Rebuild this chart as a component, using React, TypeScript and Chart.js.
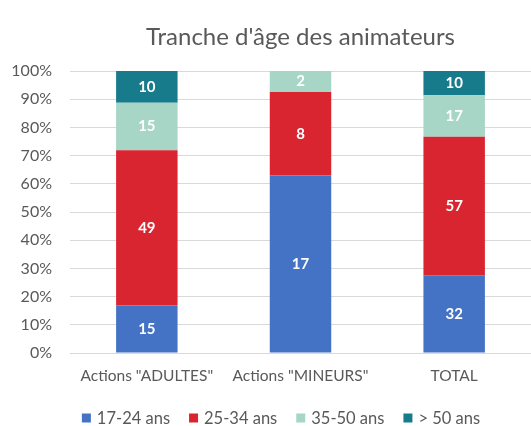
import React, { useEffect, useRef } from "react";
import { Chart, registerables } from "chart.js";

Chart.register(...registerables);

const categories = ['Actions "ADULTES"', 'Actions "MINEURS"', "TOTAL"];
const seriesNames = ["17-24 ans", "25-34 ans", "35-50 ans", "> 50 ans"];
const counts1724 = [15, 17, 32];
const counts2534 = [49, 8, 57];
const counts3550 = [15, 2, 17];
const counts50 = [10, 0, 10];
const colors = ["#4472C4", "#D92530", "#A7D5C6", "#177B8B"];
const yTicks = [0, 10, 20, 30, 40, 50, 60, 70, 80, 90, 100];
const titleText = "Tranche d'âge des animateurs";

const allCounts = [counts1724, counts2534, counts3550, counts50];
const totals = categories.map((_, i) => allCounts.reduce((s, arr) => s + arr[i], 0));

const FONT = "Lato, 'Liberation Sans', sans-serif";
const TEXT = "#595959";

const labelPlugin = {
  id: "countLabels",
  afterDatasetsDraw(chart: any) {
    const ctx = chart.ctx;
    ctx.save();
    ctx.fillStyle = "#FFFFFF";
    ctx.font = "bold 15px Lato, sans-serif";
    ctx.textAlign = "center";
    ctx.textBaseline = "middle";
    chart.data.datasets.forEach((ds: any, di: number) => {
      const meta = chart.getDatasetMeta(di);
      meta.data.forEach((el: any, i: number) => {
        const c = allCounts[di][i];
        if (!c) return;
        const y = (el.y + el.base) / 2;
        ctx.fillText(String(c), el.x, y);
      });
    });
    ctx.restore();
  },
};

const titleLegendPlugin = {
  id: "titleLegend",
  afterDraw(chart: any) {
    const ctx = chart.ctx;
    const area = chart.chartArea;
    ctx.save();
    // title centred over the plot area
    ctx.fillStyle = TEXT;
    ctx.font = `24px ${FONT}`;
    ctx.textAlign = "center";
    ctx.textBaseline = "middle";
    ctx.fillText(titleText, (area.left + area.right) / 2, 37);
    // legend
    ctx.font = `16.5px ${FONT}`;
    ctx.textAlign = "left";
    const box = 9;
    const gap = 6;
    const itemGap = 19;
    const widths = chart.data.datasets.map((ds: any) => ctx.measureText(ds.label).width);
    const total =
      widths.reduce((s: number, w: number) => s + w + box + gap, 0) + itemGap * (widths.length - 1);
    let x = 281 - total / 2;
    const y = 418;
    chart.data.datasets.forEach((ds: any, i: number) => {
      ctx.fillStyle = ds.backgroundColor;
      ctx.fillRect(x, y - box / 2, box, box);
      x += box + gap;
      ctx.fillStyle = TEXT;
      ctx.fillText(ds.label, x, y + 1);
      x += widths[i] + itemGap;
    });
    ctx.restore();
  },
};

export default function App() {
  const ref = useRef<HTMLCanvasElement>(null);
  useEffect(() => {
    document.body.style.margin = "0";
    const chart = new Chart(ref.current!, {
      type: "bar",
      data: {
        labels: categories,
        datasets: allCounts.map((arr, di) => ({
          label: seriesNames[di],
          data: arr.map((v, i) => (v / totals[i]) * 100),
          backgroundColor: colors[di],
          borderWidth: 0,
          categoryPercentage: 1,
          barPercentage: 0.4,
        })),
      },
      options: {
        animation: false,
        responsive: false,
        layout: { padding: { left: 0, right: 0, top: 71, bottom: 32 } },
        plugins: {
          title: { display: false },
          legend: { display: false },
          tooltip: { enabled: false },
        },
        scales: {
          x: {
            stacked: true,
            grid: { display: false, drawTicks: false },
            border: { display: false },
            afterFit(scale: any) {
              scale.height = 41;
            },
            ticks: {
              color: TEXT,
              font: { family: FONT, size: 15.5 },
              padding: 14,
              maxRotation: 0,
            },
          },
          y: {
            stacked: true,
            min: 0,
            max: 100,
            afterFit(scale: any) {
              scale.width = 70;
            },
            afterBuildTicks(scale: any) {
              scale.ticks = yTicks.map((v) => ({ value: v }));
            },
            grid: { color: "#D9D9D9", drawTicks: false },
            border: { display: false },
            ticks: {
              color: TEXT,
              font: { family: FONT, size: 16 },
              padding: 18,
              callback: (v: any) => v + "%",
            },
          },
        },
      },
      plugins: [labelPlugin, titleLegendPlugin],
    });
    return () => chart.destroy();
  }, []);
  return (
    <div style={{ width: 531, height: 426 }}>
      <canvas ref={ref} width={531} height={426} />
    </div>
  );
}
